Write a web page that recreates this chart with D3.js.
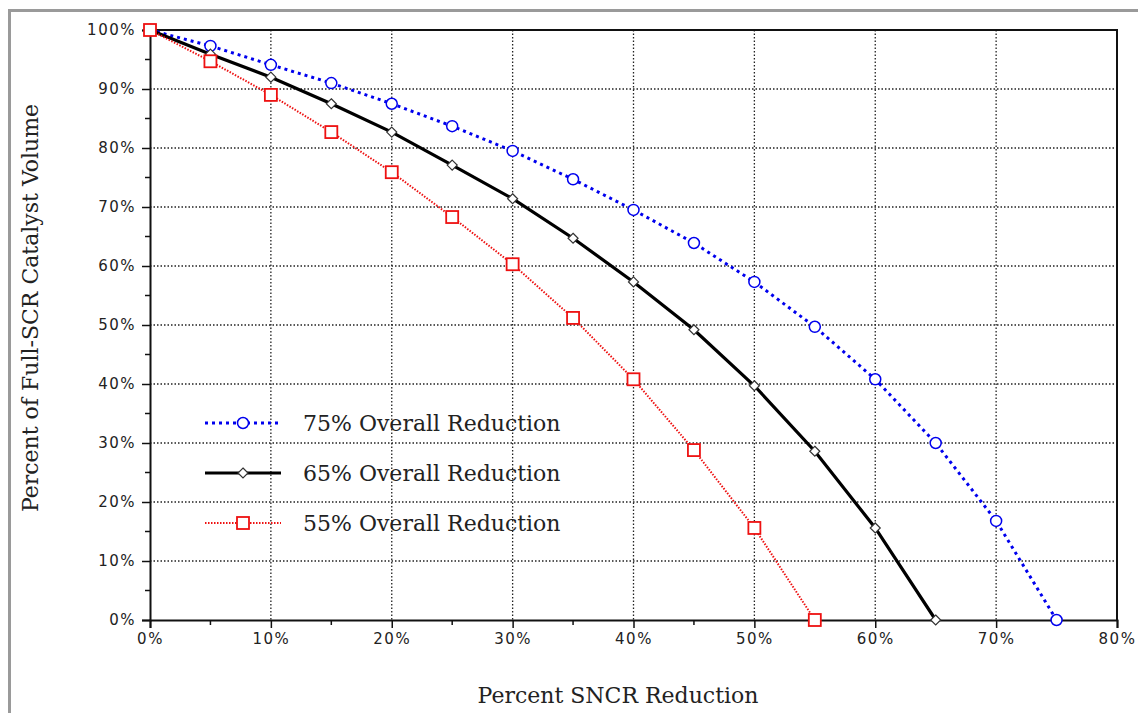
<!DOCTYPE html>
<html>
<head>
<meta charset="utf-8">
<script src="https://cdn.jsdelivr.net/npm/d3@7"></script>
<style>
  body { margin: 0; background: #fff; }
  .tick text { font-family: "DejaVu Sans", sans-serif; font-size: 15px; letter-spacing: 1.5px; fill: #222; }
</style>
</head>
<body>
<script>
// SNCR reduction (x) and the % of full-SCR catalyst volume still needed (y)
const sncr75 = [0, 5, 10, 15, 20, 25, 30, 35, 40, 45, 50, 55, 60, 65, 70, 75];
const vol75  = [100, 97.3, 94.1, 91.0, 87.5, 83.7, 79.5, 74.7, 69.5, 63.9, 57.3, 49.7, 40.8, 30.0, 16.8, 0];

const sncr65 = [0, 5, 10, 15, 20, 25, 30, 35, 40, 45, 50, 55, 60, 65];
const vol65  = [100, 95.9, 92.0, 87.5, 82.7, 77.1, 71.4, 64.7, 57.3, 49.2, 39.7, 28.6, 15.6, 0];

const sncr55 = [0, 5, 10, 15, 20, 25, 30, 35, 40, 45, 50, 55];
const vol55  = [100, 94.7, 89.0, 82.7, 75.9, 68.3, 60.3, 51.2, 40.8, 28.8, 15.6, 0];

const xTicks = [0, 10, 20, 30, 40, 50, 60, 70, 80];
const yTicks = [0, 10, 20, 30, 40, 50, 60, 70, 80, 90, 100];
const seriesNames = ["75% Overall Reduction", "65% Overall Reduction", "55% Overall Reduction"];

const W = 1138, H = 713;
const svg = d3.select("body").append("svg").attr("width", W).attr("height", H);

// outer grey frame (only top + left visible in the original)
svg.append("path").attr("d", `M9.5,${H} V10.5 H${W}`)
   .attr("fill", "none").attr("stroke", "#9a9a9a").attr("stroke-width", 3);

const x = d3.scaleLinear().domain([0, 80]).range([150, 1117]);
const y = d3.scaleLinear().domain([0, 100]).range([620, 30]);

// dotted grid
const grid = svg.append("g");
grid.selectAll(".vg").data(xTicks.slice(1, -1)).join("line")
    .attr("x1", d => x(d)).attr("x2", d => x(d)).attr("y1", y(100)).attr("y2", y(0))
    .attr("stroke", "#222").attr("stroke-width", 1.3).attr("stroke-dasharray", "1.5,2");
grid.selectAll(".hg").data(yTicks.slice(1, -1)).join("line")
    .attr("x1", x(0)).attr("x2", x(80)).attr("y1", d => y(d)).attr("y2", d => y(d))
    .attr("stroke", "#222").attr("stroke-width", 1.3).attr("stroke-dasharray", "1.5,2");

// top + right frame
svg.append("path").attr("d", `M${x(0)},${y(100)} H${x(80)} V${y(0)}`)
   .attr("fill", "none").attr("stroke", "#111").attr("stroke-width", 2);

// axes
const xAxis = d3.axisBottom(x).tickValues(xTicks).tickFormat(d => d + "%").tickSize(8).tickPadding(5);
const yAxis = d3.axisLeft(y).tickValues(yTicks).tickFormat(d => d + "%").tickSize(8).tickPadding(6);

const gx = svg.append("g").attr("transform", `translate(0,${y(0)})`).call(xAxis);
const gy = svg.append("g").attr("transform", `translate(${x(0)},0)`).call(yAxis);
[gx, gy].forEach(g => {
  g.select(".domain").attr("stroke", "#111").attr("stroke-width", 2);
  g.selectAll(".tick line").attr("stroke", "#111").attr("stroke-width", 1.5);
});

// minor ticks at the 5% marks
svg.append("g").selectAll("line").data(d3.range(5, 80, 10)).join("line")
   .attr("x1", d => x(d)).attr("x2", d => x(d)).attr("y1", y(0)).attr("y2", y(0) + 5)
   .attr("stroke", "#111").attr("stroke-width", 1.5);
svg.append("g").selectAll("line").data(d3.range(5, 100, 10)).join("line")
   .attr("x1", x(0) - 5).attr("x2", x(0)).attr("y1", d => y(d)).attr("y2", d => y(d))
   .attr("stroke", "#111").attr("stroke-width", 1.5);

// axis titles
svg.append("text").attr("x", 618).attr("y", 703).attr("text-anchor", "middle")
   .style("font-family", "DejaVu Serif, serif").style("font-size", "22px").attr("fill", "#222")
   .text("Percent SNCR Reduction");
svg.append("text").attr("transform", "translate(38,308) rotate(-90)").attr("text-anchor", "middle")
   .style("font-family", "DejaVu Serif, serif").style("font-size", "22px").attr("fill", "#222")
   .text("Percent of Full-SCR Catalyst Volume");

const series = [
  { name: seriesNames[0], xs: sncr75, ys: vol75, color: "#0000ee", width: 3, dash: "3,4", marker: "circle" },
  { name: seriesNames[1], xs: sncr65, ys: vol65, color: "#000000", width: 3.2, dash: null, marker: "diamond" },
  { name: seriesNames[2], xs: sncr55, ys: vol55, color: "#ee1111", width: 2, dash: "1.5,1.5", marker: "square" }
];

const line = d3.line().x(d => x(d[0])).y(d => y(d[1]));

const drawMarker = (g, kind, color) => {
  if (kind === "circle") {
    g.append("circle").attr("r", 5.5).attr("fill", "#fff").attr("stroke", color).attr("stroke-width", 1.5);
  } else if (kind === "diamond") {
    g.append("path").attr("d", "M0,-5 L5,0 L0,5 L-5,0 Z").attr("fill", "#fff").attr("stroke", "#333").attr("stroke-width", 1.2);
  } else {
    g.append("rect").attr("x", -6).attr("y", -6).attr("width", 12).attr("height", 12)
     .attr("fill", "#fff").attr("stroke", color).attr("stroke-width", 1.8);
  }
};

series.forEach(s => {
  const pts = s.xs.map((v, i) => [v, s.ys[i]]);
  svg.append("path").datum(pts).attr("d", line)
     .attr("fill", "none").attr("stroke", s.color).attr("stroke-width", s.width)
     .attr("stroke-dasharray", s.dash);
  svg.append("g").selectAll("g").data(pts).join("g")
     .attr("transform", d => `translate(${x(d[0])},${y(d[1])})`)
     .each(function() { drawMarker(d3.select(this), s.marker, s.color); });
});

// legend
const legend = svg.append("g");
series.forEach((s, i) => {
  const ly = 423 + i * 50;
  legend.append("line").attr("x1", 205).attr("x2", 281).attr("y1", ly).attr("y2", ly)
        .attr("stroke", s.color).attr("stroke-width", s.width).attr("stroke-dasharray", s.dash);
  const m = legend.append("g").attr("transform", `translate(243,${ly})`);
  drawMarker(m, s.marker, s.color);
  legend.append("text").attr("x", 303).attr("y", ly + 8)
        .style("font-family", "DejaVu Serif, serif").style("font-size", "22px").attr("fill", "#222")
        .text(s.name);
});
</script>
</body>
</html>
